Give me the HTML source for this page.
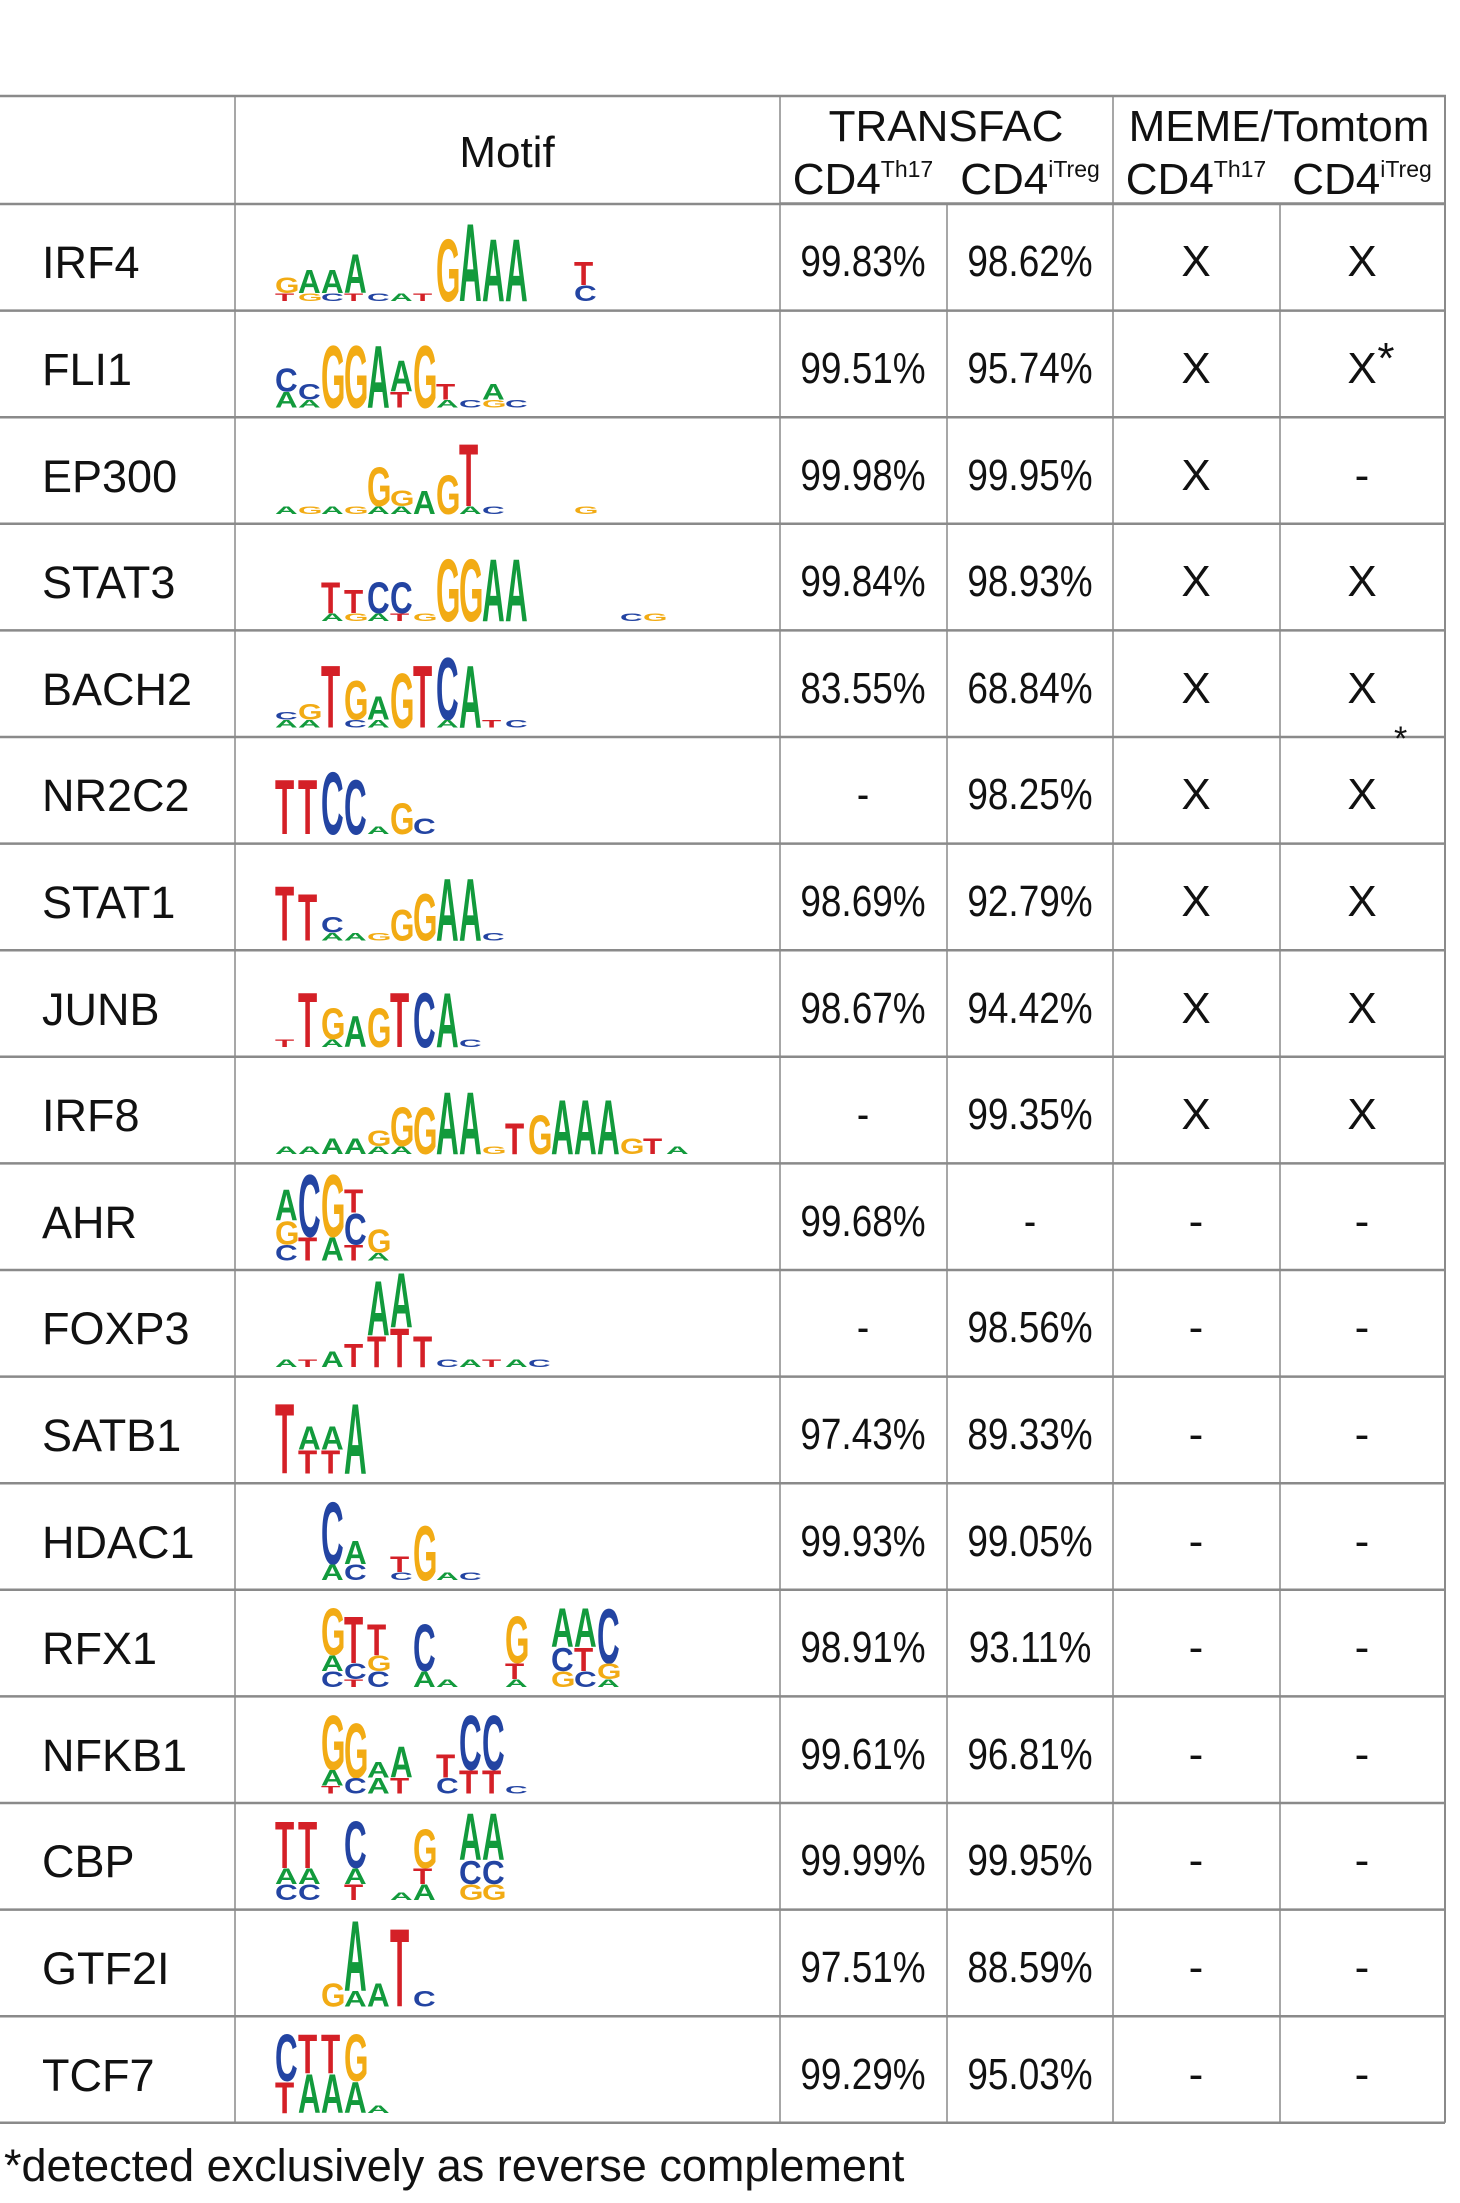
<!DOCTYPE html>
<html><head><meta charset="utf-8"><style>
body{margin:0;background:#fff;width:1460px;height:2203px;position:relative;overflow:hidden;font-family:"Liberation Sans",sans-serif;color:#111}
.t{position:absolute;white-space:nowrap;font-size:44px;line-height:1}
.c{transform:translateX(-50%)}
.n{transform:translateX(-50%) scaleX(0.84);transform-origin:center}
sup{font-size:23px;vertical-align:17px}
</style></head><body>
<svg id="grid" width="1460" height="2203" style="position:absolute;left:0;top:0"></svg>
<div class="t c" style="left:507px;top:131px">Motif</div>
<div class="t c" style="left:946px;top:105px">TRANSFAC</div>
<div class="t c" style="left:1279px;top:105px">MEME/Tomtom</div>
<div class="t c" style="left:863px;top:158px">CD4<sup>Th17</sup></div>
<div class="t c" style="left:1030px;top:158px">CD4<sup>iTreg</sup></div>
<div class="t c" style="left:1196px;top:158px">CD4<sup>Th17</sup></div>
<div class="t c" style="left:1362px;top:158px">CD4<sup>iTreg</sup></div>
<div id="rows"></div>
<div class="t" style="left:4px;top:2143px;font-size:45px">*detected exclusively as reverse complement</div>
<script>
const names=["IRF4","FLI1","EP300","STAT3","BACH2","NR2C2","STAT1","JUNB","IRF8","AHR","FOXP3","SATB1","HDAC1","RFX1","NFKB1","CBP","GTF2I","TCF7"];
const th17=["99.83%","99.51%","99.98%","99.84%","83.55%","-","98.69%","98.67%","-","99.68%","-","97.43%","99.93%","98.91%","99.61%","99.99%","97.51%","99.29%"];
const itreg=["98.62%","95.74%","99.95%","98.93%","68.84%","98.25%","92.79%","94.42%","99.35%","-","98.56%","89.33%","99.05%","93.11%","96.81%","99.95%","88.59%","95.03%"];
const memeTh17=["X","X","X","X","X","X","X","X","X","-","-","-","-","-","-","-","-","-"];
const memeItreg=["X","X*","-","X","X","X","X","X","X","-","-","-","-","-","-","-","-","-"];
const logos=[
["G2T1","A3G1","A3C1","A5T1","C1","A1","T1","G8","A10","A8","A8","","","T3C2"],
["C3A2","C2A1","G8","G8","A8","A4T2","G8","T2A1","C1","A2G1","C1"],
["A1","G1","A1","G1","G5A1","G2A1","A3","G5","T8A1","C1","","","","G1"],
["","","T4A1","T3G1","C4A1","C4T1","G1","G8","G8","A8","A8","","","","","C1","G1"],
["C1A1","G2A1","T8","G5C1","A3A1","G7","T8","C8A1","A8","T1","C1"],
["T7","T7","C8","C7","A1","G4","C2"],
["T7","T6","C2A1","A1","G1","G4","G6","A8","A8","C1"],
["T1","T7","G4A1","A4","G5","T7","C7","A7","C1"],
["A1","A1","A2","A2","G2A1","G5A1","G6","A8","A8","G1","T4","G5","A7","A7","A7","G2","T2","A1"],
["A4G3C2","C8T3","G8A3","T3C4T2","G3A1"],
["A1","T1","A2","T3","A7T4","A7T5","T4","C1","A1","T1","A1","C1"],
["T9","A3T3","A3T3","A9"],
["","","C8A2","A3C2","","T2C1","G7","A1","C1"],
["","","G6A2C2","T6C2T1","T4G2C2","","C6A2","A1","","","G6T2A1","","A5C3G2","A5T3C2","C7G2A1"],
["","","G7A2T1","G7C2","A2A2","A4T2","","T3C2","C7T3","C7T3","C1"],
["T6A2C2","T6A2C2","","C6A2T2","","A1","G5T2A2","","A6C3G2","A6C3G2"],
["","","G3","A9A2","A3","T10","C2"],
["C6T4","T5A5","T5A5","G6A4","A1"]
];
const colors={A:"#129a3c",C:"#2344a2",G:"#f2ab14",T:"#d42027"};
const top0=204, rowH=106.6;
const svgNS="http://www.w3.org/2000/svg";
const g=document.getElementById('grid');
function line(x1,y1,x2,y2,w){const l=document.createElementNS(svgNS,'line');l.setAttribute('x1',x1);l.setAttribute('y1',y1);l.setAttribute('x2',x2);l.setAttribute('y2',y2);l.setAttribute('stroke','#8a8a8a');l.setAttribute('stroke-width',w);g.appendChild(l);}
line(0,96,1446,96,2.5);
line(780,203,1445,203,1.5);
for(let i=0;i<=names.length;i++){line(0,top0+i*rowH,1445,top0+i*rowH,2.5);}
const bottom=top0+names.length*rowH;
line(235,96,235,bottom,1.5);line(780,96,780,bottom,1.5);line(1113,96,1113,bottom,1.5);line(1445,96,1445,bottom,2);
line(947,203,947,bottom,1.5);line(1280,203,1280,bottom,1.5);
const rows=document.getElementById('rows');
function txt(s,x,y,cls,name){const d=document.createElement('div');d.className='t '+cls;d.style.left=x+'px';d.style.top=y+'px';d.textContent=s;


rows.appendChild(d);return d;}
names.forEach((nm,i)=>{
  const yc=top0+i*rowH+rowH/2; const ty=yc-17;
  const lb=txt(nm,42,ty,'','row-label'); lb.style.fontSize='45px';
  txt(th17[i],863,ty,'n','transfac-th17-value');
  txt(itreg[i],1030,ty,'n','transfac-itreg-value');
  txt(memeTh17[i],1196,ty,'c','meme-th17-value');
  const v=memeItreg[i];
  const d=txt(v.replace('*',''),1362,ty,'c','meme-itreg-value');
  if(v.includes('*')){d.innerHTML='X<span style="position:absolute;left:30px;top:-10px">*</span>';}
  const cols=logos[i]; const bx=275, cw=23, base=top0+i*rowH+97, maxH=80;
  const lg=document.createElementNS(svgNS,'g');
  
  
  g.appendChild(lg);
  cols.forEach((c,j)=>{
    const parts=c.match(/[ACGT]\d+/g)||[];
    let tot=parts.reduce((s,p)=>s+parseInt(p.slice(1)),0)*maxH/10;
    let y=base-tot;
    parts.forEach(p=>{
      const L=p[0],h=parseInt(p.slice(1))*maxH/10;
      const t=document.createElementNS(svgNS,'text');
      t.setAttribute('font-family','Liberation Sans, sans-serif');
      t.setAttribute('font-weight','bold');t.setAttribute('font-size','100');
      t.setAttribute('fill',colors[L]);
      t.setAttribute('transform',`translate(${bx+j*cw},${y+h}) scale(${(cw-1)/70},${h/72})`);
      t.textContent=L;
      
      
      lg.appendChild(t);
      y+=h;
    });
  });
});
const s=txt('*',1394,722,'','nr2c2-asterisk');s.style.fontSize='34px';
</script>
</body></html>
